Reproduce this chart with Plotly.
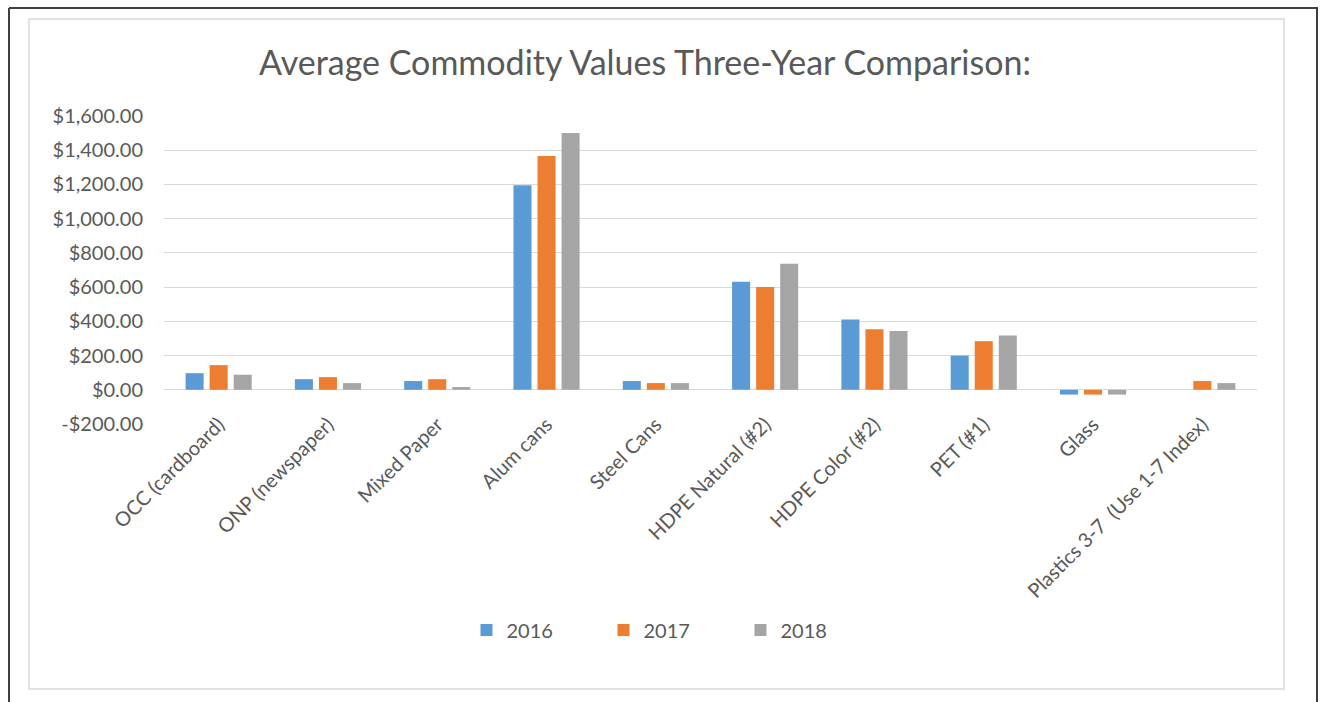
import plotly.graph_objects as go

categories = ["OCC (cardboard)", "ONP (newspaper)", "Mixed Paper", "Alum cans", "Steel Cans",
              "HDPE Natural (#2)", "HDPE Color (#2)", "PET (#1)", "Glass", "Plastics 3-7  (Use 1-7 Index)"]
values_2016 = [97, 62, 51, 1195, 51, 632, 411, 200, -28, 0]
values_2017 = [144, 74, 62, 1366, 39, 600, 354, 284, -28, 51]
values_2018 = [88, 39, 16, 1500, 39, 736, 343, 317, -28, 39]
series_names = ["2016", "2017", "2018"]
colors = ["#5B9BD5", "#ED7D31", "#A5A5A5"]
tick_values = [-200, 0, 200, 400, 600, 800, 1000, 1200, 1400, 1600]
tick_labels = ["-$200.00", "$0.00", "$200.00", "$400.00", "$600.00", "$800.00",
               "$1,000.00", "$1,200.00", "$1,400.00", "$1,600.00"]

W, H = 1322, 702
L, R, T, B = 164, 1257, 116, 424
pw, ph = R - L, B - T

def px(x):
    return (x - L) / pw

def py(y):
    return (B - y) / ph

fig = go.Figure()
for name, vals, c in zip(series_names, [values_2016, values_2017, values_2018], colors):
    fig.add_trace(go.Bar(x=categories, y=vals, name=name, marker=dict(color=c, line=dict(width=0))))

font_fam = "Lato, 'Open Sans', sans-serif"
grey = "#595959"
fig.update_layout(
    width=W, height=H,
    margin=dict(l=L, r=W - R, t=T, b=H - B, pad=0),
    paper_bgcolor="white", plot_bgcolor="white",
    barmode="group", bargap=0.34, bargroupgap=0.25,
    title=dict(text="Average Commodity Values Three-Year Comparison:", x=645 / W, xanchor="center",
               y=1 - 63 / H, yanchor="middle", yref="container",
               font=dict(family=font_fam, size=34, color=grey)),
    font=dict(family=font_fam, size=20, color=grey),
    xaxis=dict(tickangle=-45, showgrid=False, showline=False, ticks="", ticklabelstandoff=-16,
               tickfont=dict(size=20, color=grey)),
    yaxis=dict(range=[-200, 1600], tickvals=tick_values, ticktext=tick_labels, showgrid=True,
               gridcolor="#D9D9D9", gridwidth=1, zeroline=True, zerolinecolor="#D9D9D9", zerolinewidth=1,
               ticks="", ticklabelstandoff=20, tickfont=dict(size=20, color=grey)),
    legend=dict(orientation="h", x=px(672), xanchor="center", y=py(630), yanchor="middle",
                font=dict(size=20, color=grey), entrywidth=92, itemwidth=30,
                traceorder="normal"),
    shapes=[
        dict(type="rect", xref="paper", yref="paper", x0=px(29), x1=px(1284), y0=py(689), y1=py(19),
             line=dict(color="#D9D9D9", width=1.5), fillcolor="rgba(0,0,0,0)", layer="below"),
        dict(type="line", xref="paper", yref="paper", x0=px(9), x1=px(1318), y0=py(8), y1=py(8),
             line=dict(color="#404040", width=2), layer="below"),
        dict(type="line", xref="paper", yref="paper", x0=px(9), x1=px(9), y0=py(8), y1=py(720),
             line=dict(color="#404040", width=2), layer="below"),
        dict(type="line", xref="paper", yref="paper", x0=px(1317), x1=px(1317), y0=py(8), y1=py(720),
             line=dict(color="#404040", width=2), layer="below"),
    ],
)

fig.write_html("out.html", config={"displayModeBar": False},
               post_script="document.body.style.margin='0';document.body.style.overflow='hidden';")
